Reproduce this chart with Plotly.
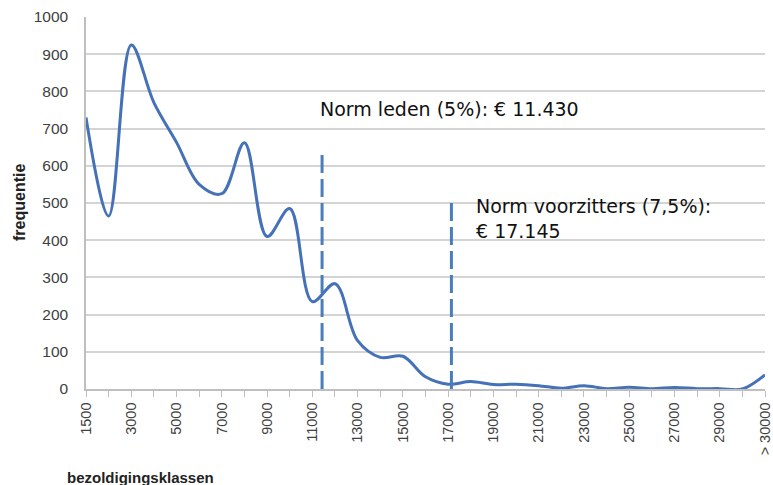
import plotly.graph_objects as go

categories = ["1500"] + [str(v) for v in range(2000, 30001, 1000)] + ["> 30000"]
frequentie = [730, 465, 925, 770, 663, 550, 525, 662, 410, 485,
              235, 283, 130, 85, 88, 33, 13, 20, 12, 13,
              9, 2, 9, 1, 5, 1, 4, 1, 1, 0, 38]
tick_labels = [c if i % 2 == 0 else "" for i, c in enumerate(categories)]

norm_leden_pos = 10.43      # € 11.430 between 11000 and 12000
norm_leden_top = 645
norm_voorz_pos = 16.145     # € 17.145 between 17000 and 18000
norm_voorz_top = 510

BLUE = "#4471b7"
GRID = "#d4d4d4"
TXT = "#404040"

L, R, T, B = 86, 765, 17, 389
PW, PH = R - L, B - T


def px(x):
    return (x - L) / PW


def py(y):
    return (B - y) / PH


fig = go.Figure()
fig.add_trace(go.Scatter(
    x=categories, y=frequentie, mode="lines",
    line=dict(color=BLUE, width=3, shape="spline", smoothing=1.0),
    showlegend=False, hoverinfo="skip"))

for pos, top in [(norm_leden_pos, norm_leden_top), (norm_voorz_pos, norm_voorz_top)]:
    fig.add_shape(type="line", xref="x", yref="y", x0=pos, x1=pos, y0=0, y1=top,
                  line=dict(color="#4a7ebb", width=3, dash="18px,6px"))

fig.add_annotation(xref="paper", yref="paper", x=px(318), y=py(109),
                   text="Norm leden (5%): € 11.430", showarrow=False,
                   xanchor="left", yanchor="middle",
                   font=dict(family="DejaVu Sans", size=19, color="#111111"))
fig.add_annotation(xref="paper", yref="paper", x=px(474), y=py(193),
                   text="Norm voorzitters (7,5%):<br>€ 17.145", showarrow=False,
                   xanchor="left", yanchor="top", align="left",
                   font=dict(family="DejaVu Sans", size=19, color="#111111"))
fig.add_annotation(xref="paper", yref="paper", x=px(19), y=py(203),
                   text="<b>frequentie</b>", showarrow=False, textangle=-90,
                   xanchor="center", yanchor="middle",
                   font=dict(family="Liberation Sans", size=16, color="#222222"))
fig.add_annotation(xref="paper", yref="paper", x=px(65), y=py(477),
                   text="<b>bezoldigingsklassen</b>", showarrow=False,
                   xanchor="left", yanchor="middle",
                   font=dict(family="Liberation Sans", size=15, color="#222222"))

fig.update_xaxes(
    type="category", categoryorder="array", categoryarray=categories,
    range=[0, 30], tickmode="array", tickvals=categories, ticktext=tick_labels,
    tickangle=-90, ticks="outside", ticklen=6, tickcolor="#bfbfbf", tickwidth=1,
    showline=True, linecolor="#bfbfbf", linewidth=1.5, showgrid=False,
    tickfont=dict(family="Liberation Sans", size=14.5, color=TXT), zeroline=False,
    automargin=False)
fig.update_yaxes(
    range=[0, 1000], tickmode="array", tickvals=list(range(0, 1001, 100)),
    showgrid=True, gridcolor=GRID, gridwidth=1.5, showline=True,
    linecolor="#bfbfbf", linewidth=1.5, zeroline=False, ticks="",
    tickfont=dict(family="Liberation Sans", size=15.5, color=TXT), ticklabelstandoff=13,
    automargin=False)

fig.update_layout(
    width=773, height=485, margin=dict(l=L, r=773 - R, t=T, b=485 - B),
    plot_bgcolor="white", paper_bgcolor="white")

fig.write_html("out.html", config={"displayModeBar": False},
               post_script="document.body.style.margin='0';document.body.style.overflow='hidden';")
